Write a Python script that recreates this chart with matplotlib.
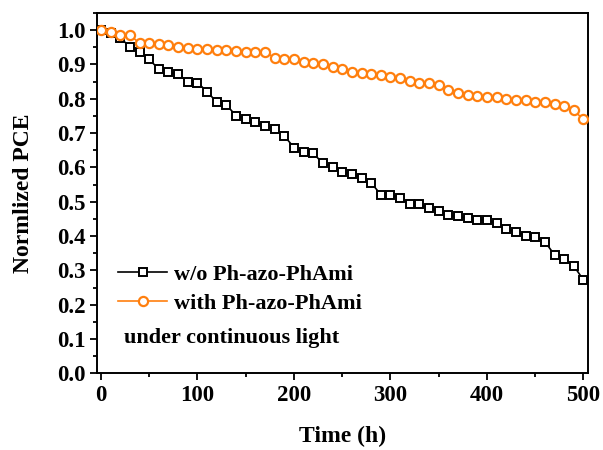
import matplotlib.pyplot as plt
import numpy as np
from matplotlib.ticker import MultipleLocator

plt.rcParams["font.family"] = ["Liberation Serif", "DejaVu Serif"]
plt.rcParams["font.weight"] = "bold"

# data (one point every 10 h)
time_h = np.arange(0, 501, 10)

pce_without = [
    1.000, 0.993, 0.977, 0.952, 0.936, 0.915, 0.886, 0.877, 0.872, 0.850,
    0.847, 0.821, 0.790, 0.782, 0.751, 0.741, 0.731, 0.721, 0.712, 0.692,
    0.658, 0.646, 0.641, 0.612, 0.602, 0.586, 0.581, 0.569, 0.555, 0.521,
    0.521, 0.512, 0.492, 0.492, 0.482, 0.472, 0.460, 0.457, 0.452, 0.447,
    0.447, 0.437, 0.421, 0.411, 0.401, 0.397, 0.384, 0.345, 0.332, 0.313,
    0.272,
]

pce_with = [
    1.000, 0.996, 0.986, 0.986, 0.962, 0.962, 0.960, 0.957, 0.950, 0.947,
    0.945, 0.945, 0.942, 0.942, 0.940, 0.936, 0.936, 0.936, 0.920, 0.915,
    0.915, 0.907, 0.904, 0.901, 0.892, 0.887, 0.879, 0.875, 0.872, 0.870,
    0.863, 0.860, 0.853, 0.847, 0.845, 0.839, 0.826, 0.818, 0.811, 0.808,
    0.806, 0.806, 0.800, 0.797, 0.797, 0.792, 0.792, 0.785, 0.779, 0.766,
    0.740,
]

label_without = "w/o Ph-azo-PhAmi"
label_with = "with Ph-azo-PhAmi"
note = "under continuous light"

ORANGE = "#ff7f0e"

fig = plt.figure(figsize=(6.03, 4.50), dpi=100)
ax = fig.add_axes([0.161, 0.1704, 0.8146, 0.8007])

ax.plot(time_h, pce_without, "-s", color="black", lw=1.2, markersize=6,
        mfc="white", mec="black", mew=1.4, label=label_without, zorder=2)
ax.plot(time_h, pce_with, "-o", color=ORANGE, lw=1.2, markersize=6.6,
        mfc="white", mec=ORANGE, mew=1.6, label=label_with, zorder=3)

ax.set_xlim(-4, 505)
ax.set_ylim(0, 1.05)
ax.xaxis.set_major_locator(MultipleLocator(100))
ax.xaxis.set_minor_locator(MultipleLocator(50))
ax.yaxis.set_major_locator(MultipleLocator(0.1))
ax.yaxis.set_minor_locator(MultipleLocator(0.05))
ax.yaxis.set_major_formatter(plt.FormatStrFormatter("%.1f"))

ax.tick_params(which="both", direction="out", top=False, right=False,
               labelsize=16.5, width=1.3)
ax.tick_params(which="major", length=5)
ax.tick_params(which="minor", length=3)
for s in ax.spines.values():
    s.set_linewidth(1.4)

ax.set_xlabel("Time (h)", fontsize=17, fontweight="bold", labelpad=14)
ax.set_ylabel("Normlized PCE", fontsize=17, fontweight="bold", labelpad=16)

ax.legend(loc="lower left", bbox_to_anchor=(0.025, 0.14), frameon=False,
          handlelength=2.2, handletextpad=0.3, labelspacing=0.4,
          borderaxespad=0, prop={"weight": "bold", "size": 16})
ax.text(0.055, 0.098, note, transform=ax.transAxes, fontsize=16,
        fontweight="bold", va="center", ha="left")

fig.savefig("out.png", dpi=100)
